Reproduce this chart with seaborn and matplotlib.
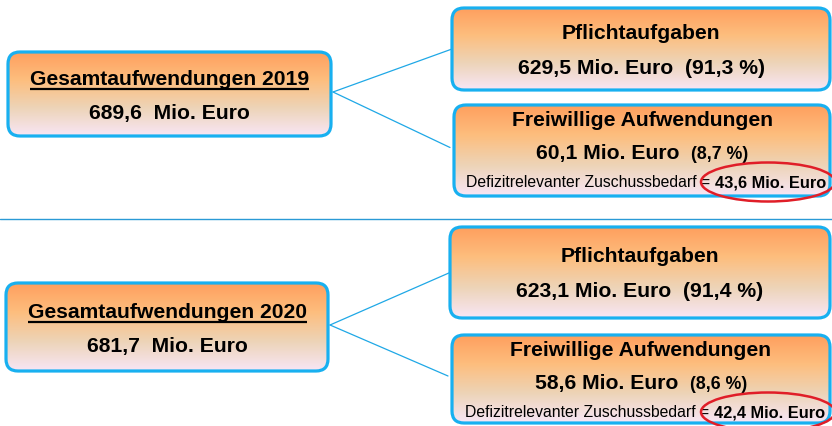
import matplotlib
matplotlib.use("Agg")
import matplotlib.pyplot as plt
from matplotlib.patches import FancyBboxPatch, Ellipse
import numpy as np
import seaborn as sns

# data
years = [2019, 2020]
total_spend = [689.6, 681.7]
mandatory = [629.5, 623.1]
mandatory_pct = [91.3, 91.4]
voluntary = [60.1, 58.6]
voluntary_pct = [8.7, 8.6]
deficit_need = [43.6, 42.4]

# layout (pixel coords, y down): left box, right box 1, right box 2
panels = [
    {"left": (8, 52, 331, 136), "r1": (452, 8, 830, 90), "r2": (454, 105, 830, 196)},
    {"left": (6, 283, 328, 371), "r1": (450, 227, 830, 318), "r2": (452, 335, 830, 423)},
]
sep_y = 219

sns.set_theme(style="white")
plt.rcParams["font.family"] = ["Liberation Sans", "DejaVu Sans"]

BORDER = "#18B0F0"
LINE = "#1FA8E6"
grad_cmap = sns.blend_palette(["#FF9F5E", "#FDBE7E", "#EDD4B8", "#F8E6F6"], as_cmap=True)

fig = plt.figure(figsize=(8.32, 4.26), dpi=100)
ax = fig.add_axes([0, 0, 1, 1])
ax.set_xlim(0, 832)
ax.set_ylim(426, 0)
ax.axis("off")


def de(v):
    return f"{v:.1f}".replace(".", ",")


def gradient_box(box):
    x0, y0, x1, y1 = box
    patch = FancyBboxPatch((x0, y0), x1 - x0, y1 - y0,
                           boxstyle="round,pad=0,rounding_size=12",
                           facecolor="none", edgecolor=BORDER, lw=2.3, zorder=3)
    ax.add_patch(patch)
    grad = np.linspace(0, 1, 256).reshape(-1, 1)
    im = ax.imshow(grad, cmap=grad_cmap, aspect="auto", origin="upper",
                   extent=(x0, x1, y1, y0), zorder=2, interpolation="bilinear")
    im.set_clip_path(patch)


renderer = fig.canvas.get_renderer()


def two_part(cx, y, s1, s2, kw1, kw2):
    # draw two texts next to each other, centred together on cx
    t1 = ax.text(0, y, s1, ha="left", va="baseline", zorder=5, **kw1)
    t2 = ax.text(0, y, s2, ha="left", va="baseline", zorder=5, **kw2)
    w1 = t1.get_window_extent(renderer).width
    w2 = t2.get_window_extent(renderer).width
    start = cx - (w1 + w2) / 2
    t1.set_x(start)
    t2.set_x(start + w1)


big = dict(fontsize=15.2, fontweight="bold", color="black")

for i, p in enumerate(panels):
    lx0, ly0, lx1, ly1 = p["left"]
    ax1, ay0, ax1r, ay1 = p["r1"]
    bx0, by0, bx1, by1 = p["r2"]
    lcy = (ly0 + ly1) / 2

    # connectors
    ax.plot([lx1 + 2, ax1], [lcy - 2, (ay0 + ay1) / 2], color=LINE, lw=0.9, zorder=1)
    ax.plot([lx1 + 2, bx0 - 4], [lcy - 2, (by0 + by1) / 2 - 3], color=LINE, lw=0.9, zorder=1)

    for b in (p["left"], p["r1"], p["r2"]):
        gradient_box(b)

    # left box
    lcx = (lx0 + lx1) / 2
    title = ax.text(lcx, lcy - 9, f"Gesamtaufwendungen {years[i]}", ha="center",
                    va="baseline", zorder=5, **big)
    ext = title.get_window_extent(renderer)
    ax.plot([ext.x0, ext.x1], [lcy - 5.5, lcy - 5.5], color="black", lw=1.6,
            solid_capstyle="butt", zorder=5)
    ax.text(lcx, lcy + 25, f"{de(total_spend[i])}  Mio. Euro", ha="center",
            va="baseline", zorder=5, **big)

    # mandatory
    rcx = (ax1 + ax1r) / 2
    rcy = (ay0 + ay1) / 2
    ax.text(rcx, rcy - 10, "Pflichtaufgaben", ha="center", va="baseline", zorder=5, **big)
    ax.text(rcx, rcy + 24.5, f"{de(mandatory[i])} Mio. Euro  ({de(mandatory_pct[i])} %)",
            ha="center", va="baseline", zorder=5, **big)

    # voluntary
    vcx = (bx0 + bx1) / 2
    ax.text(vcx, by0 + 21, "Freiwillige Aufwendungen", ha="center", va="baseline",
            zorder=5, **big)
    two_part(vcx, by0 + 54, f"{de(voluntary[i])} Mio. Euro  ", f"({de(voluntary_pct[i])} %)",
             big, dict(fontsize=12.8, fontweight="bold", color="black"))
    two_part(vcx + 4, by0 + 82, "Defizitrelevanter Zuschussbedarf = ",
             f"{de(deficit_need[i])} Mio. Euro",
             dict(fontsize=11.3, color="black"),
             dict(fontsize=11.8, fontweight="bold", color="black"))
    ax.add_patch(Ellipse((768, by0 + 77), 134, 39, facecolor="none",
                         edgecolor="#E01E28", lw=1.8, zorder=6, clip_on=False))

ax.plot([0, 832], [sep_y, sep_y], color="#2A9AD6", lw=1.0, zorder=1)

fig.savefig("out.png", dpi=100)
